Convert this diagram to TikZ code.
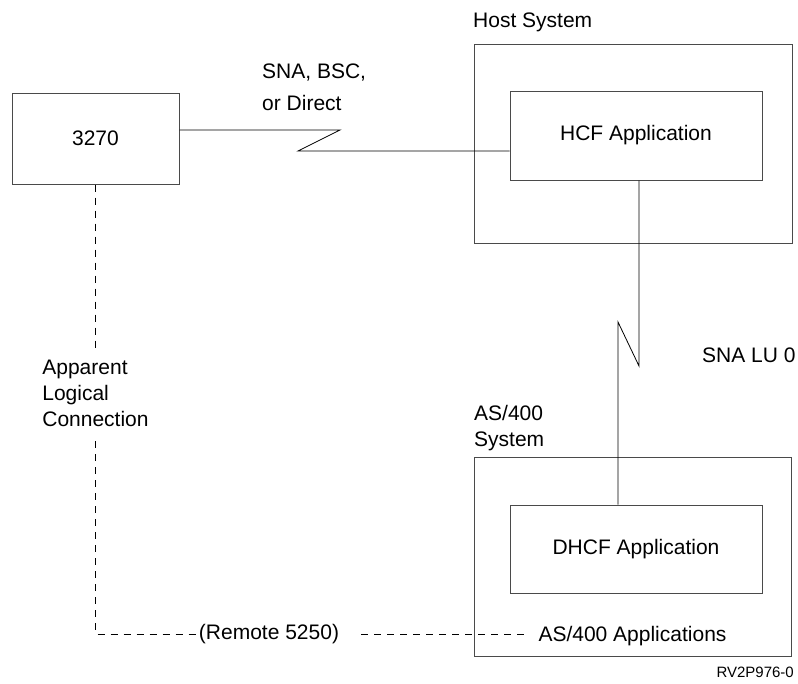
\documentclass[tikz,border=0pt]{standalone}
\usepackage{fontspec}
\setmainfont{Liberation Sans}
\usetikzlibrary{positioning,calc}
\definecolor{boxline}{HTML}{4A4A4A}
\tikzset{
  sysbox/.style={draw=boxline,line width=1pt,inner sep=0pt},
  link/.style={draw=black,line width=0.8pt},
  logical/.style={link,dash pattern=on 7pt off 6pt},
}

\begin{document}
\begin{tikzpicture}[x=1pt,y=-1pt,
  every node/.style={font=\fontsize{21}{26}\selectfont},
  lab/.style={inner sep=0pt,align=left},
  tiny/.style={inner sep=0pt,font=\fontsize{15}{18}\selectfont}]
  \useasboundingbox (0,0) rectangle (798,683);
  % terminal
  \node[sysbox,minimum width=167pt,minimum height=91pt] (term) at (95.5,138.5) {3270};
  % host
  \node[sysbox,minimum width=318pt,minimum height=199pt] (host) at (633,143.5) {};
  \node[sysbox,minimum width=252pt,minimum height=89pt] (hcf) at (636,135.5) {HCF Application};
  \node[lab,anchor=base west] (hostlab) at (473,27) {Host System};
  \node[lab,anchor=north west] (linklab) at (262,64) {SNA, BSC,\\[6pt]or Direct};
  \coordinate (z1) at (340,130);
  \coordinate (z2) at (298,151);
  \draw[link] (term.east |- z1) -- (z1) -- (z2) -- (z2 -| hcf.west);
  % as/400
  \node[sysbox,minimum width=317pt,minimum height=199pt] (as400) at (632.5,556.5) {};
  \node[sysbox,minimum width=252pt,minimum height=88pt] (dhcf) at (636,549) {DHCF Application};
  \node[lab,anchor=north west] (aslab) at (474,405) {AS/400\\System};
  \node[lab] (apps) at (632.5,636) {AS/400 Applications};
  \node[lab,anchor=base west] (lulab) at (702,362) {SNA LU 0};
  \coordinate (z3) at (639,366);
  \coordinate (z4) at (618,322);
  \draw[link] (z3 |- hcf.south) -- (z3) -- (z4) -- (z4 |- dhcf.north);
  % apparent logical path
  \node[lab,anchor=north] (apparent) at (95.5,360) {Apparent\\Logical\\Connection};
  \node[lab] (remote) at (269,634) {(Remote 5250)};
  \draw[logical,shorten >=10pt] (term.south) -- (apparent.north);
  \draw[logical,shorten <=14pt] (apparent.south) -- (term.south |- remote.west) -- (remote.west);
  \draw[logical,shorten <=22pt,shorten >=14pt] (remote.east) -- (remote.east -| apps.west);
  \node[tiny,anchor=base east] (figid) at (794,677) {RV2P976-0};
\end{tikzpicture}
\end{document}
